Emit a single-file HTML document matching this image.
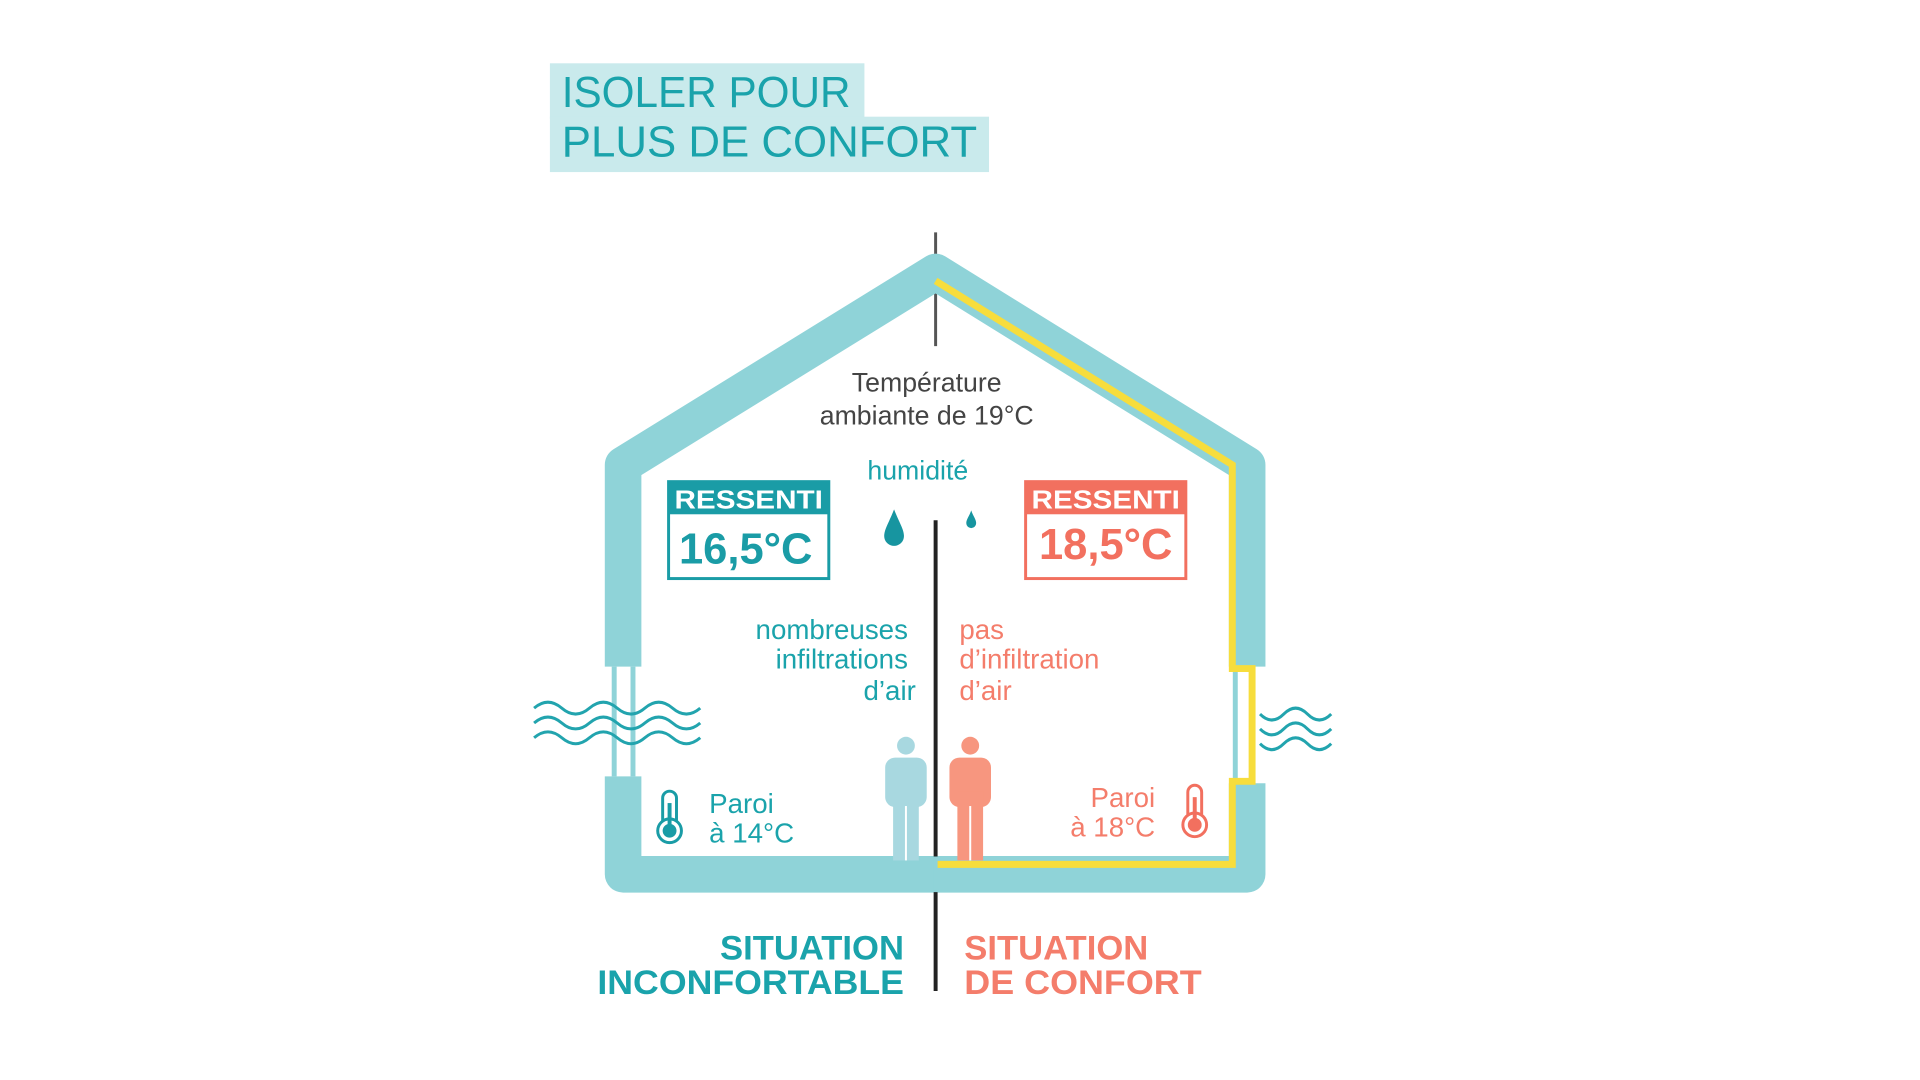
<!DOCTYPE html>
<html><head><meta charset="utf-8"><style>
html,body{margin:0;padding:0;background:#fff;}
svg{display:block;}
text{font-family:"Liberation Sans",sans-serif;}
</style></head><body>
<svg width="1920" height="1080" viewBox="0 0 1920 1080" xmlns="http://www.w3.org/2000/svg">
<g transform="translate(2,0) scale(0.989)">
<rect x="554" y="64" width="318" height="56" fill="#c9eaec"/>
<rect x="554" y="118" width="444" height="56" fill="#c9eaec"/>
<text x="566" y="108" font-size="44" fill="#1aa3ab" textLength="292" lengthAdjust="spacingAndGlyphs">ISOLER POUR</text>
<text x="566" y="158" font-size="44" fill="#1aa3ab" textLength="420" lengthAdjust="spacingAndGlyphs">PLUS DE CONFORT</text>

<line x1="944" y1="235" x2="944" y2="350" stroke="#555" stroke-width="3"/>

<g fill="none" stroke="#8fd3d8" stroke-width="37" stroke-linejoin="round" stroke-linecap="butt">
<path d="M628 674 L628 470 L944 275 L1259 470 L1259 674"/>
<path d="M628 785 L628 884 L1259 884 L1259 792"/>
</g>
<line x1="619" y1="674" x2="619" y2="785" stroke="#8fd3d8" stroke-width="5"/>
<line x1="638" y1="674" x2="638" y2="785" stroke="#8fd3d8" stroke-width="5"/>
<line x1="1247" y1="674" x2="1247" y2="792" stroke="#8fd3d8" stroke-width="5"/>
<path d="M944 284 L1244 470 L1244 676 L1264 676 L1264 790 L1244 790 L1244 874 L944 874" fill="none" stroke="#f7dd3c" stroke-width="7"/>
<rect x="942" y="868" width="4" height="34" fill="#8fd3d8"/>

<line x1="944" y1="526" x2="944" y2="866" stroke="#222" stroke-width="4"/>
<line x1="944" y1="902" x2="944" y2="1002" stroke="#222" stroke-width="4"/>

<text x="935" y="396" font-size="27" fill="#444" text-anchor="middle">Température</text>
<text x="935" y="429" font-size="27" fill="#444" text-anchor="middle">ambiante de 19°C</text>
<text x="926" y="485" font-size="27" fill="#1aa3ab" text-anchor="middle">humidité</text>
<path d="M902 515 C897 528 892 535 892 542 A10 10 0 0 0 912 542 C912 535 907 528 902 515Z" fill="#1795a0"/>
<path d="M980 516 C978 522 975 525 975 529 A5 5 0 0 0 985 529 C985 525 982 522 980 516Z" fill="#1795a0"/>

<rect x="674" y="487" width="162" height="98" fill="#fff" stroke="#1a9ca6" stroke-width="3"/>
<rect x="674" y="487" width="162" height="33" fill="#1a9ca6"/>
<text x="755" y="514" font-size="26" font-weight="bold" fill="#fff" text-anchor="middle" textLength="150" lengthAdjust="spacingAndGlyphs">RESSENTI</text>
<text x="752" y="570" font-size="44" font-weight="bold" fill="#1a9ca6" text-anchor="middle">16,5°C</text>
<rect x="1035" y="487" width="162" height="98" fill="#fff" stroke="#f2705f" stroke-width="3"/>
<rect x="1035" y="487" width="162" height="33" fill="#f2705f"/>
<text x="1116" y="514" font-size="26" font-weight="bold" fill="#fff" text-anchor="middle" textLength="150" lengthAdjust="spacingAndGlyphs">RESSENTI</text>
<text x="1116" y="565" font-size="44" font-weight="bold" fill="#f2705f" text-anchor="middle">18,5°C</text>

<g font-size="28" fill="#1aa3ab" text-anchor="end">
<text x="916" y="646">nombreuses</text>
<text x="916" y="676">infiltrations</text>
<text x="924" y="708">d’air</text>
</g>
<g font-size="28" fill="#f47d6b">
<text x="968" y="646">pas</text>
<text x="968" y="676">d’infiltration</text>
<text x="968" y="708">d’air</text>
</g>

<g fill="#a8d8e0">
<circle cx="914" cy="754" r="9"/>
<rect x="893" y="766" width="42" height="50" rx="10"/>
<rect x="901" y="800" width="26" height="70"/>
</g>
<line x1="914" y1="815" x2="914" y2="870" stroke="#fff" stroke-width="2"/>
<g fill="#f7967f">
<circle cx="979" cy="754" r="9"/>
<rect x="958" y="766" width="42" height="50" rx="10"/>
<rect x="966" y="800" width="26" height="70"/>
</g>
<line x1="979" y1="815" x2="979" y2="870" stroke="#fff" stroke-width="2"/>

<g>
<rect x="668" y="800" width="14" height="38" rx="7" fill="#fff" stroke="#1a9ca6" stroke-width="3"/>
<circle cx="675" cy="840" r="12" fill="#fff" stroke="#1a9ca6" stroke-width="3"/>
<circle cx="675" cy="840" r="7" fill="#1a9ca6"/>
<rect x="673" y="812" width="4" height="26" fill="#1a9ca6"/>
</g>
<g>
<rect x="1199" y="794" width="14" height="38" rx="7" fill="#fff" stroke="#f2705f" stroke-width="3"/>
<circle cx="1206" cy="834" r="12" fill="#fff" stroke="#f2705f" stroke-width="3"/>
<circle cx="1206" cy="834" r="7" fill="#f2705f"/>
<rect x="1204" y="806" width="4" height="26" fill="#f2705f"/>
</g>
<g font-size="28" fill="#1aa3ab">
<text x="715" y="822">Paroi</text>
<text x="715" y="852">à 14°C</text>
</g>
<g font-size="28" fill="#f47d6b" text-anchor="end">
<text x="1166" y="816">Paroi</text>
<text x="1166" y="846">à 18°C</text>
</g>

<g fill="none" stroke="#22a4ae" stroke-width="3">
<path d="M538 716 q14 -12 28 0 t28 0 t28 0 t28 0 t28 0 t28 0"/>
<path d="M538 731 q14 -12 28 0 t28 0 t28 0 t28 0 t28 0 t28 0"/>
<path d="M538 746 q14 -12 28 0 t28 0 t28 0 t28 0 t28 0 t28 0"/>
<path d="M1272 722 q12 12 24 0 t24 0 t24 0"/>
<path d="M1272 737 q12 12 24 0 t24 0 t24 0"/>
<path d="M1272 752 q12 12 24 0 t24 0 t24 0"/>
</g>

<g font-size="35" font-weight="bold" fill="#1aa3ab" text-anchor="end">
<text x="912" y="970">SITUATION</text>
<text x="912" y="1005" textLength="310" lengthAdjust="spacingAndGlyphs">INCONFORTABLE</text>
</g>
<g font-size="35" font-weight="bold" fill="#f47d6b">
<text x="973" y="970">SITUATION</text>
<text x="973" y="1005" textLength="240" lengthAdjust="spacingAndGlyphs">DE CONFORT</text>
</g>
</g>
</svg>
</body></html>
